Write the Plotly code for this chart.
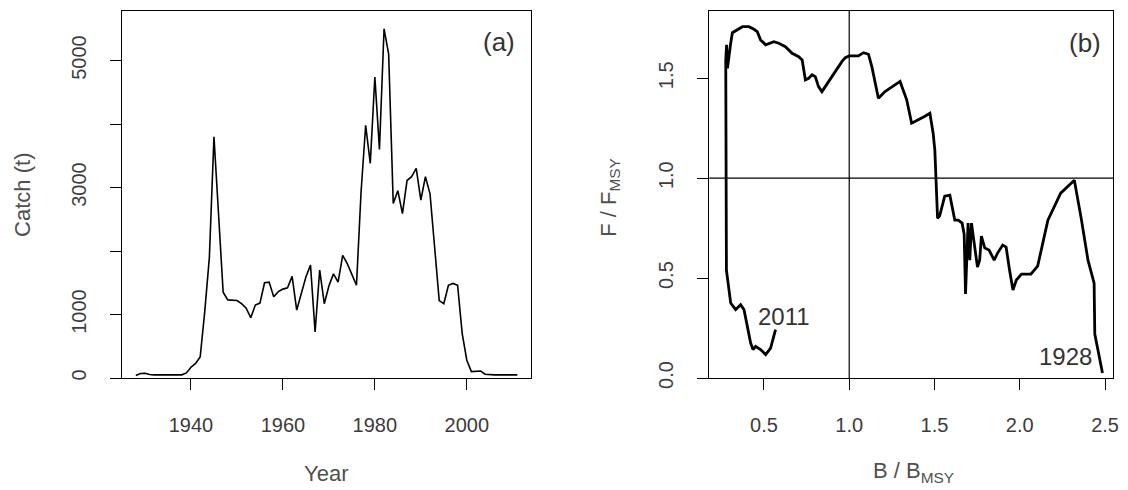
import plotly.graph_objects as go

# ---------------- data ----------------
years = list(range(1928, 2012))
catch = [
    40, 70, 75, 55, 50, 50, 50, 50, 50, 50, 50, 80,            # 1928-1939
    170, 230, 330, 1050, 1900, 3800, 2600, 1350, 1230, 1230,   # 1940-1949
    1220, 1170, 1100, 950, 1150, 1180, 1500, 1510, 1280, 1360, # 1950-1959
    1400, 1420, 1600, 1070, 1330, 1590, 1780, 725, 1700, 1170, # 1960-1969
    1450, 1640, 1510, 1930, 1800, 1620, 1460, 2930, 3980, 3380,# 1970-1979
    4740, 3600, 5500, 5100, 2750, 2950, 2590, 3110, 3170, 3300,# 1980-1989
    2800, 3170, 2900, 2060, 1220, 1170, 1460, 1490, 1460, 700, # 1990-1999
    280, 100, 110, 110, 60, 50, 50, 50, 50, 50,                # 2000-2009
    50, 50,                                                    # 2010-2011
]

b_bmsy = [
    2.485, 2.44, 2.436, 2.40, 2.36, 2.32, 2.24, 2.165, 2.135, 2.105,
    2.065, 2.01, 1.98, 1.96, 1.94, 1.92, 1.90, 1.87, 1.85, 1.82,
    1.795, 1.775, 1.765, 1.752, 1.736, 1.717, 1.707, 1.697, 1.682, 1.674,
    1.662, 1.639, 1.619, 1.609, 1.59, 1.56, 1.541, 1.53, 1.518, 1.512,
    1.502, 1.492, 1.473, 1.444, 1.385, 1.366, 1.337, 1.298, 1.268, 1.21,
    1.171, 1.152, 1.133, 1.113, 1.084, 1.054, 1.0, 0.977, 0.957, 0.918,
    0.879, 0.84, 0.82, 0.801, 0.782, 0.762, 0.743, 0.733, 0.724, 0.704,
    0.665, 0.626, 0.587, 0.558, 0.529, 0.51, 0.48, 0.461, 0.441, 0.412,
    0.374, 0.345, 0.315, 0.305, 0.296, 0.286, 0.281, 0.276, 0.28, 0.296,
    0.305, 0.334, 0.363, 0.383, 0.402, 0.422, 0.436, 0.451, 0.48, 0.51,
    0.539, 0.568,
]
f_fmsy = [
    0.025, 0.22, 0.475, 0.59, 0.80, 0.99, 0.925, 0.79, 0.675, 0.56,
    0.52, 0.52, 0.49, 0.44, 0.54, 0.655, 0.665, 0.625, 0.59, 0.64,
    0.65, 0.71, 0.59, 0.555, 0.655, 0.775, 0.59, 0.775, 0.42, 0.72,
    0.775, 0.79, 0.79, 0.84, 0.915, 0.91, 0.85, 0.81, 0.80, 0.975,
    1.14, 1.225, 1.325, 1.31, 1.283, 1.275, 1.392, 1.484, 1.467, 1.433,
    1.40, 1.483, 1.557, 1.62, 1.628, 1.612, 1.612, 1.603, 1.583, 1.533,
    1.483, 1.433, 1.458, 1.508, 1.517, 1.50, 1.492, 1.558, 1.592, 1.608,
    1.625, 1.658, 1.675, 1.683, 1.675, 1.667, 1.692, 1.733, 1.745, 1.758,
    1.758, 1.742, 1.728, 1.675, 1.625, 1.55, 1.667, 1.59, 0.54, 0.425,
    0.375, 0.342, 0.367, 0.342, 0.258, 0.175, 0.142, 0.158, 0.142, 0.117,
    0.15, 0.242,
]

catch_ticks = [0, 1000, 2000, 3000, 4000, 5000]
catch_ticktext = ["0", "1000", "", "3000", "", "5000"]
year_ticks = [1940, 1960, 1980, 2000]
b_ticks = [0.5, 1.0, 1.5, 2.0, 2.5]
b_ticktext = ["0.5", "1.0", "1.5", "2.0", "2.5"]
f_ticks = [0.0, 0.5, 1.0, 1.5]
f_ticktext = ["0.0", "0.5", "1.0", "1.5"]

# ---------------- layout constants ----------------
W, H = 1128, 490
L1, R1 = 123, 534
L2, R2 = 713, 1119
TOP, BOT = 11, 378
FONT = "Liberation Sans, Arial, sans-serif"
TICKC = "#3c3c3c"
TITLEC = "#505050"


def py(v):
    """pixel row -> paper y (paper spans the plot area between margins)"""
    return (BOT - v) / (BOT - TOP)


fig = go.Figure()
fig.add_trace(go.Scatter(x=years, y=catch, mode="lines",
                         line=dict(color="black", width=1.6),
                         xaxis="x", yaxis="y", showlegend=False, hoverinfo="skip"))
fig.add_trace(go.Scatter(x=b_bmsy, y=f_fmsy, mode="lines",
                         line=dict(color="black", width=2.8),
                         xaxis="x2", yaxis="y2", showlegend=False, hoverinfo="skip"))

common = dict(showgrid=False, zeroline=False, showline=True, linecolor="black",
              linewidth=1.2, mirror=True, ticks="outside", ticklen=11,
              tickwidth=1.2, tickcolor="black",
              tickfont=dict(family=FONT, size=20, color=TICKC))

fig.update_layout(
    width=W, height=H, autosize=False,
    margin=dict(l=0, r=0, t=TOP, b=H - BOT),
    paper_bgcolor="white", plot_bgcolor="white",
    xaxis=dict(domain=[L1 / W, R1 / W], range=[1925.07, 2014.0],
               tickvals=year_ticks, anchor="y", ticklabelstandoff=18, **common),
    yaxis=dict(domain=[0, 1], range=[0, 5780], tickvals=catch_ticks,
               ticktext=catch_ticktext, tickangle=-90, anchor="x",
               ticklabelstandoff=16, **common),
    xaxis2=dict(domain=[L2 / W, R2 / W], range=[0.179, 2.547],
                tickvals=b_ticks, ticktext=b_ticktext, anchor="y2",
                ticklabelstandoff=18, **common),
    yaxis2=dict(domain=[0, 1], range=[0, 1.8365], tickvals=f_ticks,
                ticktext=f_ticktext, tickangle=-90, anchor="x2",
                ticklabelstandoff=16, **common),
    shapes=[
        dict(type="line", xref="x2", yref="y2 domain", x0=1.0, x1=1.0, y0=0, y1=1,
             line=dict(color="black", width=1.2)),
        dict(type="line", xref="x2 domain", yref="y2", x0=0, x1=1, y0=1.0, y1=1.0,
             line=dict(color="black", width=1.2)),
    ],
)

ann = [
    dict(text="Catch (t)", x=22 / W, y=py(195), xref="paper", yref="paper",
         textangle=-90, font=dict(family=FONT, size=22, color=TITLEC)),
    dict(text="Year", x=328 / W, y=py(474), xref="paper", yref="paper",
         font=dict(family=FONT, size=22, color=TITLEC)),
    dict(text="F / F<sub>MSY</sub>", x=613 / W, y=py(197), xref="paper", yref="paper",
         textangle=-90, font=dict(family=FONT, size=22, color=TITLEC)),
    dict(text="B / B<sub>MSY</sub>", x=918 / W, y=py(472), xref="paper", yref="paper",
         font=dict(family=FONT, size=22, color=TITLEC)),
    dict(text="(a)", x=(502 - L1) / (R1 - L1), y=(BOT - 42) / (BOT - TOP),
         xref="x domain", yref="y domain",
         font=dict(family=FONT, size=26, color="#333333")),
    dict(text="(b)", x=(1091 - L2) / (R2 - L2), y=(BOT - 43) / (BOT - TOP),
         xref="x2 domain", yref="y2 domain",
         font=dict(family=FONT, size=26, color="#333333")),
    dict(text="2011", x=0.620, y=0.308, xref="x2", yref="y2",
         font=dict(family=FONT, size=24, color="#333333")),
    dict(text="1928", x=2.271, y=0.108, xref="x2", yref="y2",
         font=dict(family=FONT, size=24, color="#333333")),
]
for a in ann:
    a.update(showarrow=False, xanchor="center", yanchor="middle")
fig.update_layout(annotations=ann)

fig.write_html("out.html")
